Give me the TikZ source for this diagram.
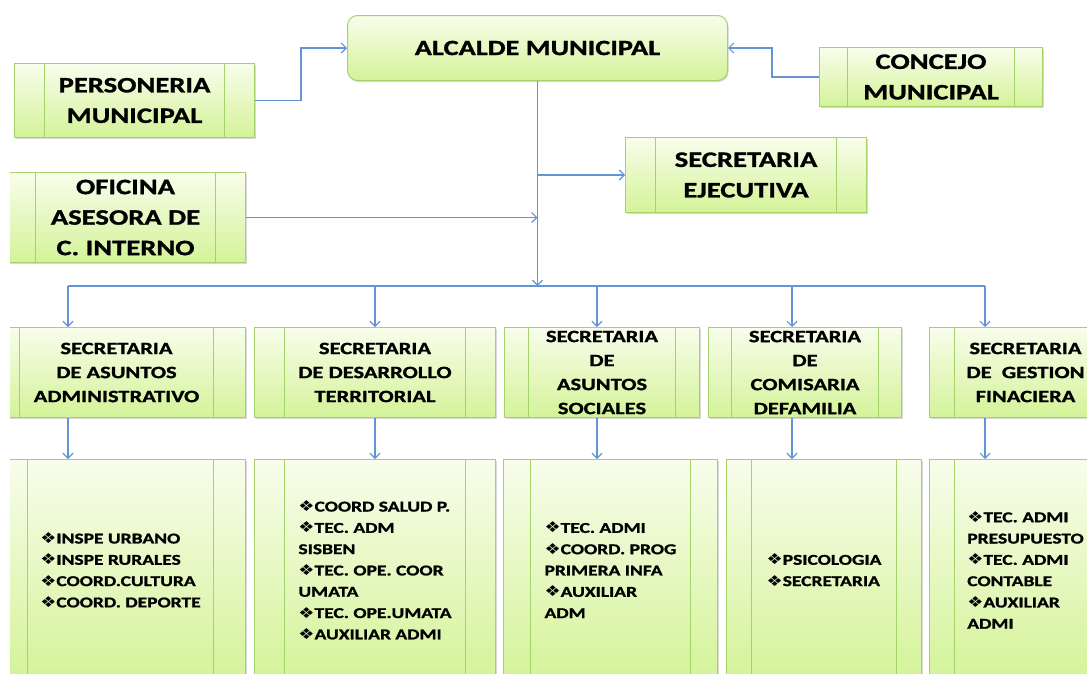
\documentclass[tikz,border=0pt]{standalone}
\usepackage{fontspec}
\setmainfont{Carlito}
\newfontfamily\letra[FakeStretch=1.3,FakeBold=1.2]{Carlito}
\newfontfamily\vineta[FakeStretch=1.2]{DejaVu Sans}
\usetikzlibrary{arrows.meta,shadows}

\definecolor{verdeclaro}{RGB}{248,253,236}
\definecolor{verdeoscuro}{RGB}{212,243,152}
\definecolor{verdeborde}{RGB}{166,210,106}
\definecolor{azulflecha}{RGB}{98,148,214}

\newcommand{\vin}{{\vineta\fontsize{15}{15}\selectfont ❖}}

\begin{document}
\begin{tikzpicture}[x=1pt,y=1pt,yscale=-1,
    barra/.store in=\anchobarra, barra=30,
    cajabase/.style={draw=verdeborde, line width=1pt, top color=verdeclaro, bottom color=verdeoscuro,
      inner sep=0pt, anchor=north west,
      drop shadow={shadow xshift=1pt, shadow yshift=-1.5pt, opacity=0.3}},
    caja/.style={cajabase, path picture={
      \draw[verdeborde, line width=1pt] ([xshift=\anchobarra pt]path picture bounding box.north west) -- ([xshift=\anchobarra pt]path picture bounding box.south west);
      \draw[verdeborde, line width=1pt] ([xshift=-\anchobarra pt]path picture bounding box.north east) -- ([xshift=-\anchobarra pt]path picture bounding box.south east);}},
    tam/.style 2 args={minimum width=#1pt, minimum height=#2pt},
    titulo/.style={font=\letra\bfseries\fontsize{22}{30.5}\selectfont, align=center, inner sep=0pt},
    subtitulo/.style={font=\letra\bfseries\fontsize{17.3}{24}\selectfont, align=center, inner sep=0pt},
    lista/.style={font=\letra\bfseries\fontsize{15}{21.3}\selectfont, align=left, inner sep=0pt},
    flecha/.style={draw=azulflecha, line width=1.2pt, -{Straight Barb[length=5pt,width=10pt]}},
    linea/.style={draw=azulflecha, line width=1.2pt}]

\useasboundingbox (0,0) rectangle (1087,673);
\begin{scope}
\clip (10,0) rectangle (1087,673);

% Cabeza
\node[cajabase, rounded corners=10pt, tam={380}{65}] (alc) at (347,15) {};
\node[caja, tam={240}{74}] (pers) at (14,63) {};
\node[caja, barra=28, tam={223}{59}] (conc) at (819,47) {};
\node[caja, tam={241}{75}] (ejec) at (625,137) {};
\node[caja, tam={240}{90}] (ofi) at (5,172) {};

% Secretarias
\node[caja, barra=32, tam={258}{90}] (sec1) at (-13,327) {};
\node[caja, tam={241}{90}] (sec2) at (254,327) {};
\node[caja, barra=24, tam={195}{90}] (sec3) at (504,327) {};
\node[caja, barra=23, tam={193}{90}] (sec4) at (708,327) {};
\node[caja, barra=25, tam={192}{90}] (sec5) at (929,327) {};

% Dependencias
\node[caja, barra=32, tam={250}{221}] (dep1) at (-5,459) {};
\node[caja, tam={241}{221}] (dep2) at (254,459) {};
\node[caja, barra=27, tam={214}{221}] (dep3) at (503,459) {};
\node[caja, barra=25, tam={195}{221}] (dep4) at (726,459) {};
\node[caja, barra=25, tam={192}{221}] (dep5) at (929,459) {};

% Text Node
\node[titulo, font=\letra\bfseries\fontsize{21.8}{26}\selectfont] (talc) at (alc.center) {ALCALDE MUNICIPAL};
\node[titulo] (tpers) at (pers.center) {PERSONERIA\\MUNICIPAL};
\node[titulo] (tconc) at (conc.center) {CONCEJO\\MUNICIPAL};
\node[titulo] (tejec) at (ejec.center) {SECRETARIA\\EJECUTIVA};
\node[titulo] (tofi) at (ofi.center) {OFICINA\\ASESORA DE\\C. INTERNO};

\node[subtitulo] (tsec1) at (sec1.center) {SECRETARIA\\DE ASUNTOS\\ADMINISTRATIVO};
\node[subtitulo] (tsec2) at (sec2.center) {SECRETARIA\\DE DESARROLLO\\TERRITORIAL};
\node[subtitulo] (tsec3) at (sec3.center) {SECRETARIA\\DE\\ASUNTOS\\SOCIALES};
\node[subtitulo] (tsec4) at (sec4.center) {SECRETARIA\\DE\\COMISARIA\\DEFAMILIA};
\node[subtitulo] (tsec5) at (sec5.center) {SECRETARIA\\DE \ GESTION\\FINACIERA};

\node[lista] (tdep1) at (dep1.center) {\vin INSPE URBANO\\\vin INSPE RURALES\\\vin COORD.CULTURA\\\vin COORD. DEPORTE};
\node[lista] (tdep2) at (dep2.center) {\vin COORD SALUD P.\\\vin TEC. ADM\\SISBEN\\\vin TEC. OPE. COOR\\UMATA\\\vin TEC. OPE.UMATA\\\vin AUXILIAR ADMI};
\node[lista] (tdep3) at (dep3.center) {\vin TEC. ADMI\\\vin COORD. PROG\\PRIMERA INFA\\\vin AUXILIAR\\ADM};
\node[lista] (tdep4) at (dep4.center) {\vin PSICOLOGIA\\\vin SECRETARIA};
\node[lista] (tdep5) at (dep5.center) {\vin TEC. ADMI\\PRESUPUESTO\\\vin TEC. ADMI\\CONTABLE\\\vin AUXILIAR\\ADMI};

% Conectores
\coordinate (b1) at (68,286);
\coordinate (b2) at (375,286);
\coordinate (b3) at (597,286);
\coordinate (b4) at (792,286);
\coordinate (b5) at (985,286);

\draw[flecha] (pers.east) -- ++(46,0) |- (alc.west);
\draw[flecha] (conc.west) -- ++(-47,0) |- (alc.east);
\draw[flecha] (alc.south) -- (alc.south |- b1);
\draw[flecha] (alc.south |- ejec.west) -- (ejec.west);
\draw[flecha] (ofi.east) -- (ofi.east -| alc.south);
\draw[linea] (b1) -- (b5);
\foreach \n in {1,...,5} {
  \draw[flecha] (b\n) -- (sec\n.north -| b\n);
  \draw[flecha] (sec\n.south -| b\n) -- (dep\n.north -| b\n);
}
\end{scope}
\end{tikzpicture}
\end{document}
